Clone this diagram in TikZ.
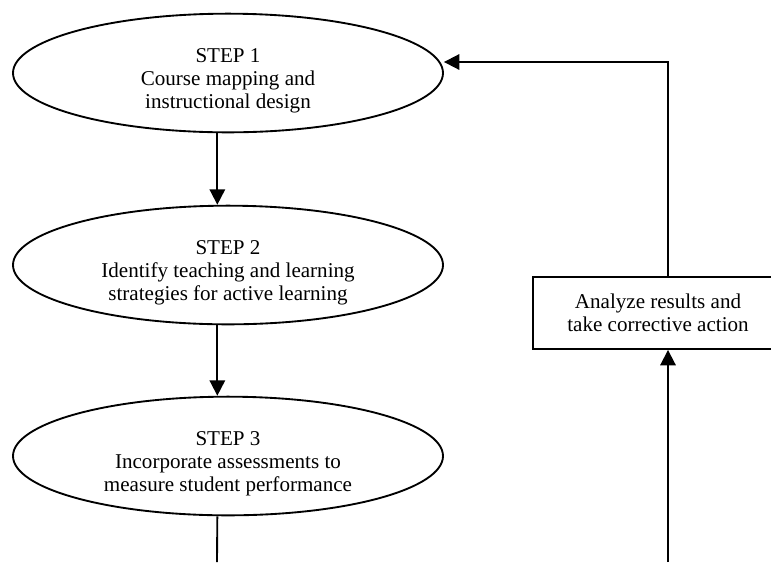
\documentclass[tikz,border=0pt]{standalone}
\usepackage{fontspec}
\setmainfont{Liberation Serif}
\usetikzlibrary{shapes.geometric,arrows.meta}

\begin{document}
\begin{tikzpicture}[x=0.75pt,y=-0.75pt,>={Triangle[length=11.5pt,width=11.5pt]},line width=1.4pt,
  font=\fontsize{15.8}{17.5}\selectfont]
\useasboundingbox (0,0) rectangle (771,562);
\clip (0,0) rectangle (771,562);
%\draw[help lines] (0,0) grid (771,562);
\foreach \n/\y/\t in {s1/73/{STEP 1\\Course mapping and\\instructional design}, s2/265/{STEP 2\\Identify teaching and learning\\strategies for active learning}, s3/456/{STEP 3\\Incorporate assessments to\\measure student performance}}
  \node[ellipse,draw,minimum width=322.5pt,minimum height=89pt,inner sep=0mm,align=center] (\n) at (228,\y) {\rule{0pt}{22pt}\t};
\node[draw,minimum width=187.5pt,minimum height=54pt,align=center] (fix) at (658,313) {Analyze results and\\take corrective action};
\coordinate (back) at (668,62);
\coordinate (out1) at (217,562);
\coordinate (out2) at (668,562);
\foreach \s/\t in {s1/s2, s2/s3}
  \draw[->] ([xshift=-8pt]\s.south) -- ([xshift=-8pt]\t.north);
\draw ([xshift=-8pt]s3.south) -- (out1);
\draw[->] (out2) -- (fix.south -| out2);
\draw[->] (fix.north -| back) -- (back) -- (s1.east |- back);
\end{tikzpicture}
\end{document}
